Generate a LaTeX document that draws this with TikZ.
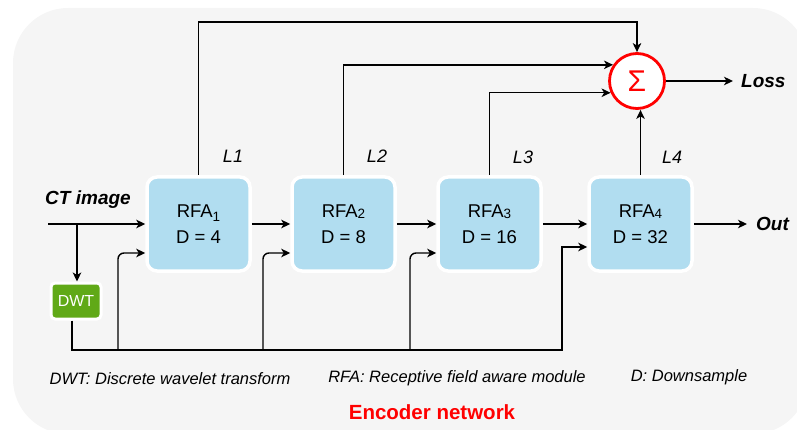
\documentclass[tikz,border=0pt]{standalone}
\usepackage{fontspec}
\setmainfont{Liberation Sans}
\usetikzlibrary{arrows.meta,calc}
\definecolor{panel}{HTML}{F5F5F5}
\definecolor{rfablue}{HTML}{B1DDF0}
\definecolor{dwtgreen}{HTML}{60A917}
\definecolor{sigred}{HTML}{FF0000}
% small index digit next to a block name
\newcommand{\idx}[2]{\raisebox{#1}{\fontsize{13.5}{13.5}\selectfont #2}}
\begin{document}
\begin{tikzpicture}[x=1pt,y=-1pt,
  wire/.style={draw=black,line width=1.4pt},
  arr/.style={wire,-{Stealth[length=9pt,width=8.5pt,inset=2.5pt]}},
  rfa/.style={draw=white,line width=3.5pt,fill=rfablue,rounded corners=10pt,
    minimum width=103pt,minimum height=94pt,align=center,inner sep=0pt,
    font=\fontsize{18.5}{25.5}\selectfont},
  dwtbox/.style={draw=white,line width=3pt,fill=dwtgreen,rounded corners=4pt,
    minimum width=50pt,minimum height=36pt,inner sep=0pt,text=white,
    font=\fontsize{16}{16}\selectfont},
  sumnode/.style={circle,draw=sigred,line width=2.8pt,fill=white,minimum size=55pt,
    inner sep=0pt,text=sigred,font=\fontsize{30}{30}\selectfont},
  lvl/.style={font=\fontsize{18}{18}\selectfont\itshape,inner sep=0pt},
  io/.style={font=\fontsize{19}{19}\selectfont\bfseries\itshape,inner sep=0pt},
  legend/.style={font=\fontsize{16.5}{16.5}\selectfont\itshape,inner sep=0pt},
]
\useasboundingbox (0,0) rectangle (797,430);
\clip (0,0) rectangle (797,430);
% encoder panel
\fill[panel,rounded corners=55pt] (13,8) rectangle (808,434);

% blocks
\node[rfa] (rfa1) at (198.5,224) {RFA\idx{-4pt}{1}\\D = 4};
\node[rfa] (rfa2) at (343.5,224) {RFA\idx{-1pt}{2}\\D = 8};
\node[rfa] (rfa3) at (489.5,224) {RFA\idx{-1pt}{3}\\D = 16};
\node[rfa] (rfa4) at (640.5,224) {RFA\idx{-1pt}{4}\\D = 32};
\node[dwtbox] (dwt) at (76,301) {DWT};
\node[sumnode] (sigma) at (637,81) {Σ};

% labels
\node[io] (ct) at (88,200) {CT image};
\node[io,anchor=west,inner xsep=8pt] (loss) at (733,81) {Loss};
\node[io,anchor=west,inner xsep=9pt] (out) at (747,224) {Out};
\node[lvl] (l1) at (233,156) {L1};
\node[lvl] (l2) at (377,156) {L2};
\node[lvl] (l3) at (523,157) {L3};
\node[lvl] (l4) at (672,157) {L4};
\node[legend] (g1) at (170,379) {DWT: Discrete wavelet transform};
\node[legend] (g2) at (457,378) {RFA: Receptive field aware module};
\node[legend] (g3) at (689,377) {D: Downsample};
\node[font=\fontsize{20.5}{20.5}\selectfont\bfseries,text=sigred,inner sep=0pt]
  (title) at (432,412) {Encoder network};

% input path
\coordinate (in) at (48,224);
\coordinate (split) at (77,224);
\draw[arr] (in) -- (rfa1.west);
\draw[arr] (split) -- (split |- dwt.north);

% main chain
\draw[arr] (rfa1.east) -- (rfa2.west);
\draw[arr] (rfa2.east) -- (rfa3.west);
\draw[arr] (rfa3.east) -- (rfa4.west);
\draw[arr] (rfa4.east) -- (out.west);

% wavelet bus under the blocks
\coordinate (b1) at (118,350);
\coordinate (b2) at (263,350);
\coordinate (b3) at (410,350);
\coordinate (b4) at (562,350);
\draw[arr] ($(dwt.south)+(-4,0)$) |- (b4) |- ($(rfa4.west)+(0,23)$);
\draw[arr,rounded corners=6pt] (b1) |- ($(rfa1.west)+(0,29)$);
\draw[arr,rounded corners=6pt] (b2) |- ($(rfa2.west)+(0,29)$);
\draw[arr,rounded corners=6pt] (b3) |- ($(rfa3.west)+(0,29)$);

% level outputs into the sum
\coordinate (top1) at (198.5,22);
\draw[arr] (rfa1.north) -- (top1) -| (sigma.north);
\draw[arr] (rfa2.north) |- (sigma.146);
\draw[arr] (rfa3.north) |- (sigma.204);
\draw[arr] (rfa4.north) -- (rfa4.north |- sigma.south);
\draw[arr] (sigma.east) -- (loss.west);
\end{tikzpicture}
\end{document}
